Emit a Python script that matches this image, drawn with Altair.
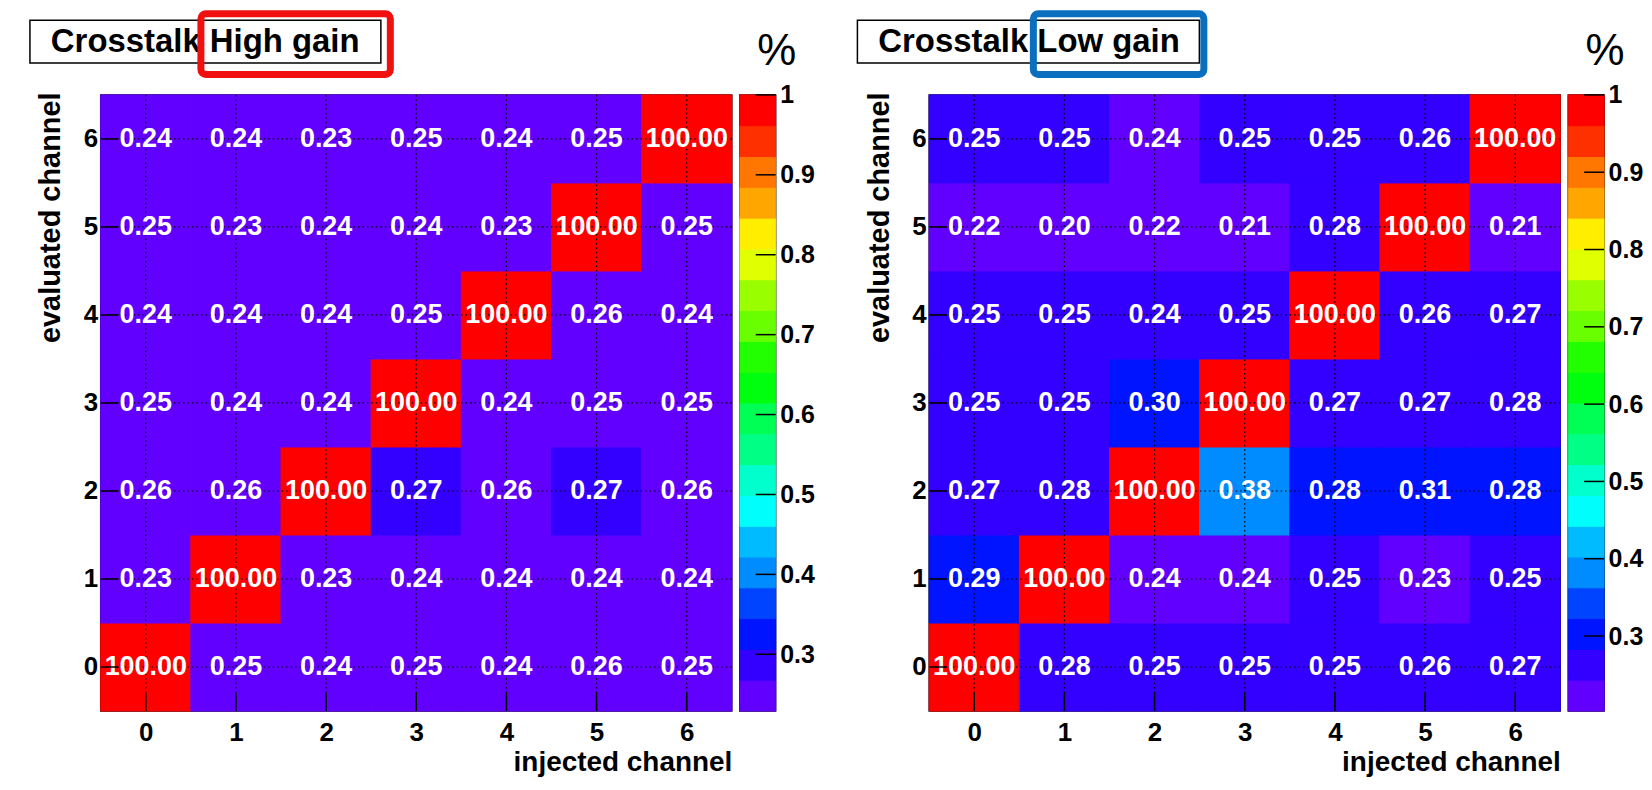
import altair as alt
import pandas as pd

FONT = "Liberation Sans"

# ---------------- data ----------------
channels = [0, 1, 2, 3, 4, 5, 6]

# rows: evaluated channel 0..6, columns: injected channel 0..6  (values in %)
high_gain_rows = [
    [100.00, 0.25, 0.24, 0.25, 0.24, 0.26, 0.25],
    [0.23, 100.00, 0.23, 0.24, 0.24, 0.24, 0.24],
    [0.26, 0.26, 100.00, 0.27, 0.26, 0.27, 0.26],
    [0.25, 0.24, 0.24, 100.00, 0.24, 0.25, 0.25],
    [0.24, 0.24, 0.24, 0.25, 100.00, 0.26, 0.24],
    [0.25, 0.23, 0.24, 0.24, 0.23, 100.00, 0.25],
    [0.24, 0.24, 0.23, 0.25, 0.24, 0.25, 100.00],
]
low_gain_rows = [
    [100.00, 0.278, 0.25, 0.25, 0.25, 0.26, 0.27],
    [0.29, 100.00, 0.24, 0.24, 0.25, 0.23, 0.25],
    [0.27, 0.276, 100.00, 0.38, 0.284, 0.31, 0.284],
    [0.25, 0.25, 0.30, 100.00, 0.27, 0.27, 0.276],
    [0.25, 0.25, 0.244, 0.25, 100.00, 0.26, 0.27],
    [0.22, 0.20, 0.22, 0.21, 0.28, 100.00, 0.21],
    [0.25, 0.25, 0.24, 0.25, 0.25, 0.26, 100.00],
]

# colour axis ranges (z min = smallest bin content, z max fixed to 1)
zmin_high = 0.229
zmin_low = 0.203
zmax = 1.0
colorbar_ticks = [0.3, 0.4, 0.5, 0.6, 0.7, 0.8, 0.9, 1.0]

# 20 contour level colours (low -> high)
palette = [
    "#6200ff", "#3300ff", "#0014ff", "#0044ff", "#008bff",
    "#00bbff", "#00fffc", "#00ffcc", "#00ff85", "#00ff55",
    "#00ff0e", "#22ff00", "#69ff00", "#99ff00", "#e0ff00",
    "#ffee00", "#ffa700", "#ff7700", "#ff3000", "#ff0000",
]

title_high = "Crosstalk High gain"
title_low = "Crosstalk Low gain"

# ---------------- layout constants ----------------
PW, PH = 633, 618
CBW = 36
TICK = 18


def heat_df(rows):
    recs = []
    for ev, row in zip(channels, rows):
        for inj, v in zip(channels, row):
            recs.append({"inj": inj, "ev": ev, "v": v})
    return pd.DataFrame(recs)


def panel(rows, zmin, title, box_color, box_x, hl_x):
    df = heat_df(rows)
    nlev = len(palette)
    w = (zmax - zmin) / nlev
    thresholds = [zmin + k * w for k in range(1, nlev)]
    xs = alt.Scale(domain=[-0.5, 6.5], nice=False, zero=False)
    ys = alt.Scale(domain=[-0.5, 6.5], nice=False, zero=False)
    cscale = alt.Scale(type="threshold", domain=thresholds, range=palette)

    rect = (
        alt.Chart(df)
        .transform_calculate(
            x0="datum.inj - 0.5", x1="datum.inj + 0.5",
            y0="datum.ev - 0.5", y1="datum.ev + 0.5",
        )
        .mark_rect(strokeWidth=1)
        .encode(
            x=alt.X(
                "x0:Q", scale=xs,
                axis=alt.Axis(
                    values=channels, format="d", ticks=False, domain=False, grid=False,
                    labelFontSize=26, labelFontWeight="bold", labelFont=FONT,
                    labelColor="black", labelPadding=9,
                    title="injected channel", titleFontSize=28, titleFontWeight="bold",
                    titleFont=FONT, titleColor="black",
                    titleX=PW, titleY=60, titleAlign="right", titleBaseline="alphabetic",
                ),
            ),
            x2="x1:Q",
            y=alt.Y(
                "y0:Q", scale=ys,
                axis=alt.Axis(
                    values=channels, format="d", ticks=False, domain=False, grid=False,
                    labelFontSize=26, labelFontWeight="bold", labelFont=FONT,
                    labelColor="black", labelPadding=3,
                    title="evaluated channel", titleFontSize=29, titleFontWeight="bold",
                    titleFont=FONT, titleColor="black",
                    titleX=-41, titleY=-3, titleAngle=-90, titleAlign="right",
                    titleBaseline="alphabetic",
                ),
            ),
            y2="y1:Q",
            color=alt.Color("v:Q", scale=cscale, legend=None),
            stroke=alt.Stroke("v:Q", scale=cscale, legend=None),
        )
    )

    ch_df = pd.DataFrame({"c": channels})
    grid_x = alt.Chart(ch_df).mark_rule(color="black", strokeWidth=1.2, strokeDash=[1.5, 3]).encode(
        x=alt.X("c:Q", scale=xs)
    )
    grid_y = alt.Chart(ch_df).mark_rule(color="black", strokeWidth=1.2, strokeDash=[1.5, 3]).encode(
        y=alt.Y("c:Q", scale=ys)
    )
    ticks_x = alt.Chart(ch_df).mark_rule(color="black", strokeWidth=1.5).encode(
        x=alt.X("c:Q", scale=xs), y=alt.value(PH - TICK), y2=alt.value(PH)
    )
    ticks_y = alt.Chart(ch_df).mark_rule(color="black", strokeWidth=1.5).encode(
        y=alt.Y("c:Q", scale=ys), x=alt.value(0), x2=alt.value(TICK)
    )
    text = alt.Chart(df).mark_text(
        color="white", fontWeight="bold", fontSize=27, font=FONT
    ).encode(
        x=alt.X("inj:Q", scale=xs),
        y=alt.Y("ev:Q", scale=ys),
        text=alt.Text("v:Q", format=".2f"),
    )

    tdf = pd.DataFrame({"t": [title]})
    tbox = alt.Chart(tdf).mark_rect(fill="white", stroke="black", strokeWidth=1.5).encode(
        x=alt.value(box_x[0]), x2=alt.value(box_x[1]), y=alt.value(-75), y2=alt.value(-32)
    )
    ttext = alt.Chart(tdf).mark_text(
        align="left", baseline="middle", fontSize=33, fontWeight="bold", font=FONT, color="black"
    ).encode(x=alt.value(box_x[0] + 21), y=alt.value(-53), text="t:N")
    hl = alt.Chart(tdf).mark_rect(
        fillOpacity=0, stroke=box_color, strokeWidth=7, cornerRadius=5
    ).encode(x=alt.value(hl_x[0]), x2=alt.value(hl_x[1]), y=alt.value(-81.5), y2=alt.value(-20.5))

    heat = alt.layer(rect, grid_x, grid_y, text, ticks_x, ticks_y, tbox, ttext, hl).properties(
        width=PW, height=PH
    )

    # colour bar
    cb_df = pd.DataFrame({
        "lo": [zmin + k * w for k in range(nlev)],
        "hi": [zmin + (k + 1) * w for k in range(nlev)],
        "col": palette,
    })
    zs = alt.Scale(domain=[zmin, zmax], nice=False, zero=False)
    cb = alt.Chart(cb_df).mark_rect(strokeWidth=1).encode(
        y=alt.Y(
            "lo:Q", scale=zs,
            axis=alt.Axis(
                orient="right", values=colorbar_ticks, format="~g", ticks=False, domain=False,
                grid=False, labelFontSize=25, labelFontWeight="bold", labelFont=FONT,
                labelColor="black", labelPadding=4, title=None,
            ),
        ),
        y2="hi:Q",
        x=alt.value(0), x2=alt.value(CBW),
        color=alt.Color("col:N", scale=None),
        stroke=alt.Stroke("col:N", scale=None),
    )
    cb_ticks = alt.Chart(pd.DataFrame({"t": colorbar_ticks})).mark_rule(
        color="black", strokeWidth=1.5
    ).encode(y=alt.Y("t:Q", scale=zs), x=alt.value(CBW - 20), x2=alt.value(CBW))
    pct = alt.Chart(pd.DataFrame({"u": ["%"]})).mark_text(
        fontSize=44, font=FONT, color="black", align="center", baseline="middle"
    ).encode(x=alt.value(37), y=alt.value(-43), text="u:N")
    colorbar = alt.layer(cb, cb_ticks, pct).properties(width=CBW, height=PH)

    return alt.hconcat(heat, colorbar, spacing=4).resolve_scale(
        color="independent", stroke="independent"
    )


left = panel(high_gain_rows, zmin_high, title_high, "#f01010", (-71, 281), (100.5, 290.5))
right = panel(low_gain_rows, zmin_low, title_low, "#0a6fbf", (-72, 271), (104.5, 275.5))

chart = (
    alt.hconcat(left, right, spacing=40)
    .resolve_scale(color="independent", stroke="independent")
    .properties(padding={"left": 20, "top": 0, "right": 0, "bottom": 0}, background="white")
    .configure_view(stroke="black", strokeWidth=1.5)
)

chart.save("out.html", embed_options={"renderer": "svg", "actions": False})
